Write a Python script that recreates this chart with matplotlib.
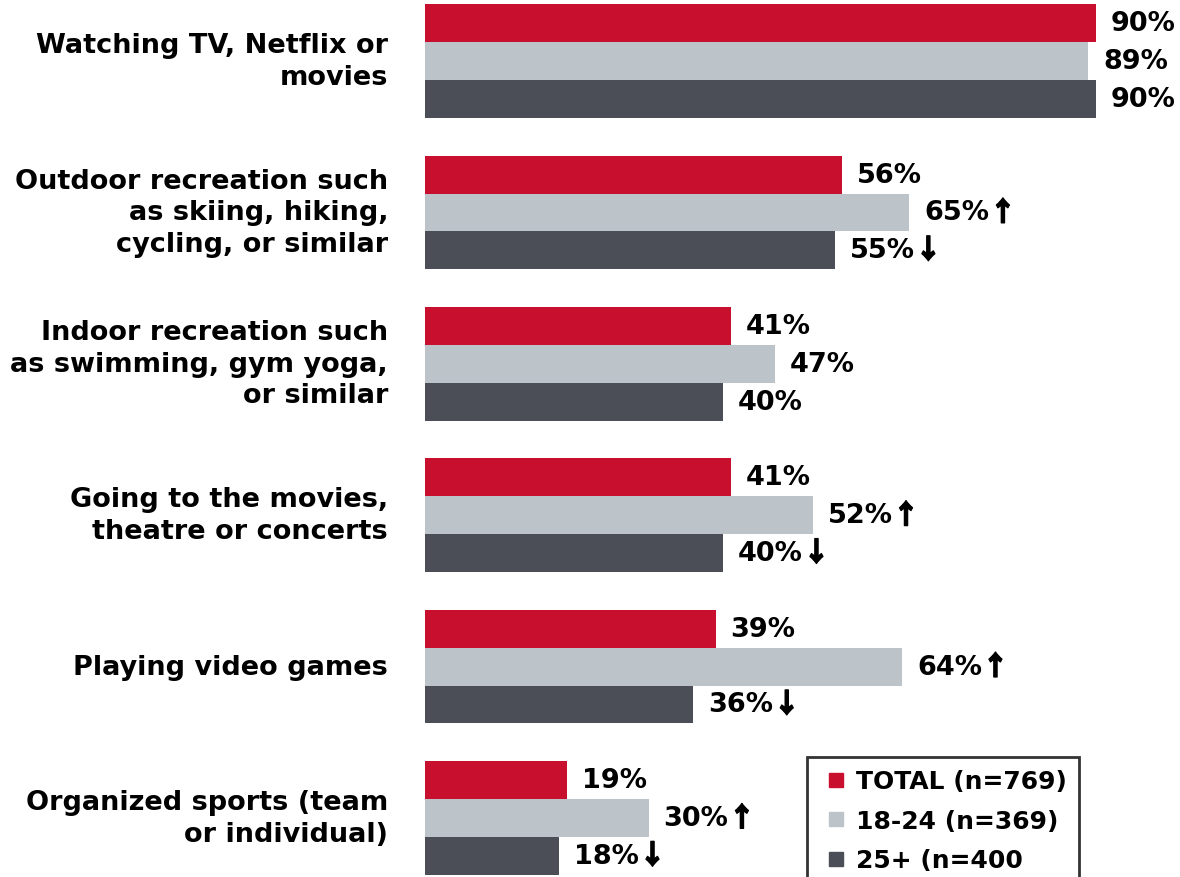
import matplotlib
matplotlib.use("Agg")
import matplotlib.pyplot as plt
import matplotlib.patheffects as pe
from matplotlib.lines import Line2D

plt.rcParams['font.family'] = ['DejaVu Sans']
plt.rcParams['font.weight'] = 'bold'

categories = [
    "Watching TV, Netflix or\nmovies",
    "Outdoor recreation such\nas skiing, hiking,\ncycling, or similar",
    "Indoor recreation such\nas swimming, gym yoga,\nor similar",
    "Going to the movies,\ntheatre or concerts",
    "Playing video games",
    "Organized sports (team\nor individual)",
]
total = [90, 56, 41, 41, 39, 19]
age_18_24 = [89, 65, 47, 52, 64, 30]
age_25_plus = [90, 55, 40, 40, 36, 18]
# significance marks: +1 higher, -1 lower, 0 none
sig_18_24 = [0, 1, 0, 1, 1, 1]
sig_25_plus = [0, -1, 0, -1, -1, -1]

series = [
    ("TOTAL (n=769)", total, [0] * 6, "#C8102E"),
    ("18-24 (n=369)", age_18_24, sig_18_24, "#BCC3C9"),
    ("25+ (n=400", age_25_plus, sig_25_plus, "#4B4E57"),
]
arrows = {1: "\u2191", -1: "\u2193"}

fig = plt.figure(figsize=(11.8, 8.78), dpi=100)
ax = fig.add_axes([425 / 1180, 0, 1 - 425 / 1180, 1])

h = 0.25
fs = 19.5
for k, (name, vals, sig, col) in enumerate(series):
    for i, v in enumerate(vals):
        y = i + (k - 1) * h
        ax.barh(y, v, height=h, color=col)
        t = ax.text(v + 2, y, f"{v}%", va="center", ha="left",
                    fontsize=fs, fontweight="bold")
        if sig[i]:
            ax.annotate(arrows[sig[i]], xy=(1, 0.5), xycoords=t,
                        va="center", ha="left", fontsize=fs,
                        fontweight="heavy", family=['Noto Sans CJK JP'],
                        path_effects=[pe.withStroke(linewidth=0.9,
                                                    foreground="black")])

for i, c in enumerate(categories):
    ax.text(-4.96, i, c, ha="right", va="center", fontsize=fs,
            fontweight="bold", linespacing=1.28, clip_on=False)

ax.set_xlim(0, 101.3)
ax.set_ylim(5.39, -0.41)
ax.axis("off")

handles = [Line2D([], [], marker="s", linestyle="", markersize=10,
                  color=s[3], label=s[0]) for s in series]
leg = fig.legend(handles=handles, loc="upper left",
                 bbox_to_anchor=(807 / 1180, 1 - 758 / 878),
                 fontsize=18, frameon=True, fancybox=False,
                 handlelength=1.3, handletextpad=0.15,
                 labelspacing=0.62, borderpad=0.5, borderaxespad=0)
leg.get_frame().set_edgecolor("black")
leg.get_frame().set_linewidth(2)
for t in leg.get_texts():
    t.set_fontweight("bold")

fig.savefig("out.png", dpi=100)
